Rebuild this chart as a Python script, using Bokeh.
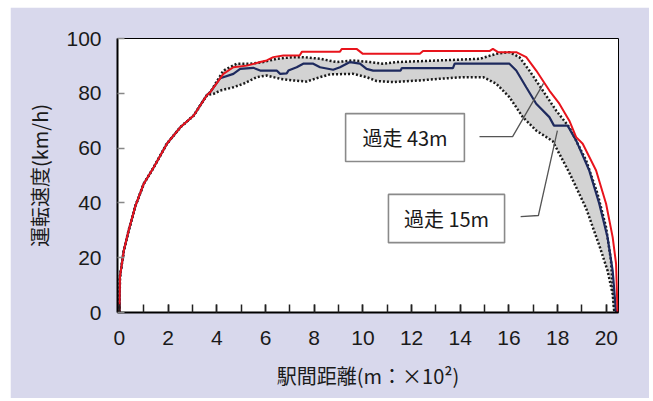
from bokeh.plotting import figure
from bokeh.models import Range1d, FixedTicker, Spacer
from bokeh.layouts import column, row
from bokeh.embed import file_html
from bokeh.resources import INLINE
from bokeh.core.properties import value

# ---------------- data (distance in 100 m, speed in km/h) ----------------
accel_x = [0.0, 0.02, 0.18, 0.38, 0.66, 1.0, 1.41, 1.95, 2.5, 3.05, 3.45, 3.6]
accel_y = [0.0, 13.0, 22.6, 30.0, 39.0, 47.0, 53.0, 61.6, 67.6, 71.9, 77.4, 79.4]

red_x = [3.73, 4.27, 4.68, 5.23, 5.78, 6.05, 6.32, 6.73, 7.4, 7.5, 9.06, 9.13, 9.74, 10.0,
         12.34, 12.47, 15.2, 15.34, 15.55, 16.3, 16.71, 17.12, 17.66, 18.07, 18.48, 18.76,
         19.03, 19.58, 19.99, 20.26, 20.4, 20.46]
red_y = [80.4, 87.1, 89.5, 90.1, 91.4, 92.0, 93.2, 93.8, 93.8, 95.2, 95.2, 96.2, 96.2, 94.4,
         94.4, 95.4, 95.4, 96.2, 95.0, 95.0, 93.2, 88.3, 81.0, 76.2, 70.0, 64.0,
         61.6, 51.8, 39.7, 27.5, 17.8, 0.0]

navy_x = [3.73, 4.14, 4.68, 4.96, 5.5, 5.78, 6.46, 6.6, 6.87, 6.94, 7.28, 7.55, 7.96, 8.24,
          8.78, 9.06, 9.47, 9.88, 10.15, 10.42, 11.55, 11.6, 13.7, 13.77, 16.02, 16.3, 16.71,
          17.12, 17.66, 17.85, 18.41, 18.76, 19.3, 19.71, 20.05, 20.26, 20.4]
navy_y = [80.4, 85.5, 87.1, 88.9, 89.3, 88.3, 88.3, 87.1, 87.3, 88.3, 89.5, 90.8, 90.8, 89.5,
          88.6, 89.5, 91.4, 90.8, 88.9, 88.3, 88.3, 89.2, 89.2, 90.8, 90.8, 88.3, 82.2,
          76.2, 71.3, 68.2, 68.2, 62.8, 51.8, 39.7, 27.5, 15.3, 0.0]

upper_x = [3.73, 4.27, 4.82, 5.37, 5.91, 6.46, 7.14, 7.55, 8.24, 8.92, 9.6, 10.29, 10.83,
           11.38, 13.16, 14.8, 15.48, 16.02, 16.43, 16.84, 17.39, 17.94, 18.48, 19.17,
           19.64, 19.99, 20.19, 20.33]
upper_y = [80.4, 88.3, 90.8, 90.8, 91.4, 92.6, 93.2, 93.2, 92.6, 91.4, 92.0, 91.4, 90.8,
           91.4, 92.0, 92.6, 94.4, 95.0, 93.2, 88.3, 81.0, 73.7, 67.6, 55.5,
           43.3, 31.1, 19.0, 0.0]

lower_x = [3.87, 4.14, 4.68, 5.1, 5.64, 6.05, 6.6, 7.14, 7.69, 8.24, 8.65, 9.6, 10.15,
           10.56, 11.24, 12.34, 13.16, 14.11, 14.94, 15.48, 16.02, 16.57, 17.12, 17.8,
           18.48, 19.17, 19.71, 20.05, 20.26, 20.33]
lower_y = [79.8, 81.0, 82.2, 83.5, 85.9, 86.5, 85.3, 84.7, 84.3, 85.9, 86.9, 87.1, 85.9,
           84.5, 84.1, 84.7, 85.3, 85.9, 85.9, 83.5, 78.6, 71.3, 66.4, 62.5,
           51.0, 38.0, 24.5, 15.3, 6.8, 0.0]

x_ticks = list(range(0, 21, 2))
x_minor = list(range(0, 21))
y_ticks = [0, 20, 40, 60, 80, 100]

labels = ["過走 43m", "過走 15m"]
x_title = "駅間距離(m：×10²)"
y_title = "運転速度(km/h)"

# ---------------- annotation layout ----------------
box_left = [9.29, 11.05]
box_right = [14.17, 15.82]
box_top = [72.6, 43.1]
box_bottom = [55.1, 25.5]
leader1_x = [14.79, 16.15, 17.42]
leader1_y = [64.2, 64.2, 83.6]
leader2_x = [16.48, 17.21, 17.99]
leader2_y = [35.0, 35.4, 66.4]

BG = "#d8d8ec"
TICK_FONT = "Liberation Sans"
JP_FONT = "Noto Sans CJK JP"

p = figure(width=639, height=391,
           x_range=Range1d(-0.08, 20.5), y_range=Range1d(0, 100),
           output_backend="svg", toolbar_location=None,
           min_border_left=107, min_border_right=31,
           min_border_top=31, min_border_bottom=86,
           background_fill_color="white", border_fill_color=BG,
           outline_line_color="black", outline_line_width=1)
p.grid.visible = False

# band
band_x = accel_x[-1:] + upper_x + lower_x[::-1] + accel_x[-1:]
band_y = accel_y[-1:] + upper_y + lower_y[::-1] + accel_y[-1:]
p.patch(band_x, band_y, fill_color="#d3d3d3", line_color=None)

dot = dict(line_color="#1a1a1a", line_width=2.5, line_dash="2 2")
p.line(accel_x + upper_x, accel_y + upper_y, **dot)
p.line(accel_x + lower_x, accel_y + lower_y, **dot)
p.line(accel_x + navy_x, accel_y + navy_y, line_color="#1e2a5e", line_width=2.2)
p.line(accel_x + red_x, accel_y + red_y, line_color="#e8141c", line_width=2)

# annotation boxes
p.quad(left=box_left, right=box_right, top=box_top, bottom=box_bottom,
       fill_color="white", line_color="#8a8a8a", line_width=1.6)
p.text(x=[(a + b) / 2 for a, b in zip(box_left, box_right)],
       y=[(a + b) / 2 for a, b in zip(box_top, box_bottom)],
       text=labels, text_font=value(JP_FONT), text_font_size="20px",
       text_align="center", text_baseline="middle", text_color="#1a1a1a")
p.line(leader1_x, leader1_y, line_color="#555555", line_width=1.3)
p.line(leader2_x, leader2_y, line_color="#555555", line_width=1.3)

# axes
xa = p.xaxis[0]
xa.ticker = FixedTicker(ticks=x_ticks, minor_ticks=x_minor)
xa.axis_line_width = 2
xa.axis_line_color = "black"
xa.major_tick_in = 8
xa.major_tick_out = 0
xa.minor_tick_in = 8
xa.minor_tick_out = 0
xa.major_tick_line_color = "#222222"
xa.minor_tick_line_color = "#222222"
xa.major_tick_line_width = 1.5
xa.minor_tick_line_width = 1.5
xa.major_label_text_font = TICK_FONT
xa.major_label_text_font_size = "21px"
xa.major_label_text_color = "#1a1a1a"
xa.major_label_standoff = 18
xa.axis_label = x_title
xa.axis_label_text_font = JP_FONT
xa.axis_label_text_font_size = "20px"
xa.axis_label_text_font_style = "normal"
xa.axis_label_text_color = "#1a1a1a"
xa.axis_label_standoff = 13

ya = p.yaxis[0]
ya.ticker = FixedTicker(ticks=y_ticks, minor_ticks=[])
ya.axis_line_width = 2
ya.axis_line_color = "black"
ya.major_tick_in = 7
ya.major_tick_out = 0
ya.major_tick_line_color = "#888888"
ya.major_tick_line_width = 1.5
ya.minor_tick_line_color = None
ya.major_label_text_font = TICK_FONT
ya.major_label_text_font_size = "21px"
ya.major_label_text_color = "#1a1a1a"
ya.major_label_standoff = 16
ya.axis_label = y_title
ya.axis_label_text_font = JP_FONT
ya.axis_label_text_font_size = "20px"
ya.axis_label_text_font_style = "normal"
ya.axis_label_text_color = "#1a1a1a"
ya.axis_label_standoff = 9

layout = column(Spacer(height=7), row(Spacer(width=10), p))

open("out.html", "w").write(file_html(layout, INLINE))
